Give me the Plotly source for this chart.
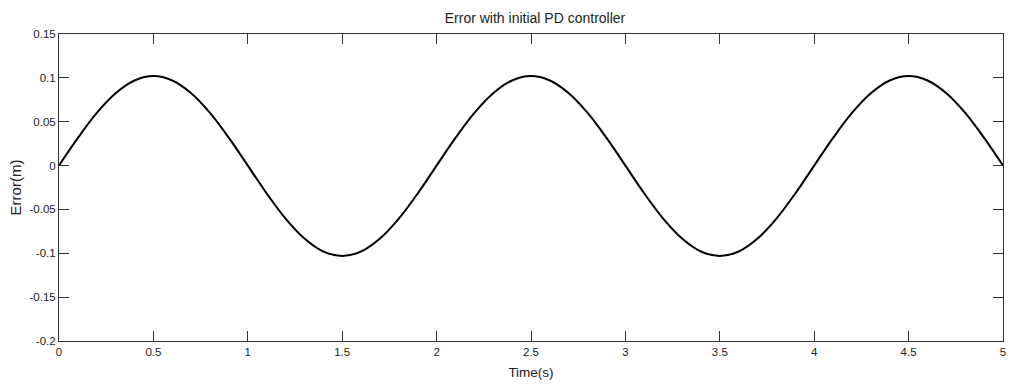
import plotly.graph_objects as go

time_s = [0.0, 0.1, 0.2, 0.3, 0.4, 0.5, 0.6, 0.7, 0.8, 0.9,
          1.0, 1.1, 1.2, 1.3, 1.4, 1.5, 1.6, 1.7, 1.8, 1.9,
          2.0, 2.1, 2.2, 2.3, 2.4, 2.5, 2.6, 2.7, 2.8, 2.9,
          3.0, 3.1, 3.2, 3.3, 3.4, 3.5, 3.6, 3.7, 3.8, 3.9,
          4.0, 4.1, 4.2, 4.3, 4.4, 4.5, 4.6, 4.7, 4.8, 4.9, 5.0]
error_m = [0.0, 0.0315, 0.060, 0.0825, 0.097, 0.102, 0.097, 0.0825, 0.060, 0.0315,
           0.0, -0.0318, -0.0605, -0.0832, -0.098, -0.103, -0.098, -0.0832, -0.0605, -0.0318,
           0.0, 0.0315, 0.060, 0.0825, 0.097, 0.102, 0.097, 0.0825, 0.060, 0.0315,
           0.0, -0.0318, -0.0605, -0.0832, -0.098, -0.103, -0.098, -0.0832, -0.0605, -0.0318,
           0.0, 0.0315, 0.060, 0.0825, 0.097, 0.102, 0.097, 0.0825, 0.060, 0.0315, 0.0]

x_ticks = [0, 0.5, 1, 1.5, 2, 2.5, 3, 3.5, 4, 4.5, 5]
x_tick_labels = ["0", "0.5", "1", "1.5", "2", "2.5", "3", "3.5", "4", "4.5", "5"]
y_ticks = [0.15, 0.1, 0.05, 0, -0.05, -0.1, -0.15, -0.2]
y_tick_labels = ["0.15", "0.1", "0.05", "0", "-0.05", "-0.1", "-0.15", "-0.2"]

font = "Liberation Sans, Arial, sans-serif"
txt = "#222222"

fig = go.Figure()
fig.add_trace(go.Scatter(
    x=time_s, y=error_m, mode="lines",
    line=dict(color="black", width=2, shape="spline", smoothing=1.0),
    showlegend=False, hoverinfo="x+y",
))

axis_common = dict(
    showline=True, linecolor="#333333", linewidth=1, mirror="ticks",
    ticks="inside", ticklen=10, tickcolor="#333333", tickwidth=1,
    showgrid=False, zeroline=False,
    tickfont=dict(family=font, size=11.5, color=txt),
)

fig.update_layout(
    width=1010, height=385,
    margin=dict(l=59, r=4, t=34, b=44),
    paper_bgcolor="white", plot_bgcolor="white",
    title=dict(text="Error with initial PD controller", x=535 / 1010, xanchor="center",
               y=0.953, yanchor="middle", yref="container",
               font=dict(family=font, size=14, color=txt)),
    xaxis=dict(range=[0, 5], tickvals=x_ticks, ticktext=x_tick_labels,
               title=dict(text="Time(s)", font=dict(family=font, size=13.5, color=txt), standoff=10),
               **axis_common),
    yaxis=dict(range=[-0.2, 0.15], tickvals=y_ticks, ticktext=y_tick_labels,
               title=dict(text="Error(m)", font=dict(family=font, size=15, color=txt), standoff=4),
               **axis_common),
)

fig.write_html("out.html")
